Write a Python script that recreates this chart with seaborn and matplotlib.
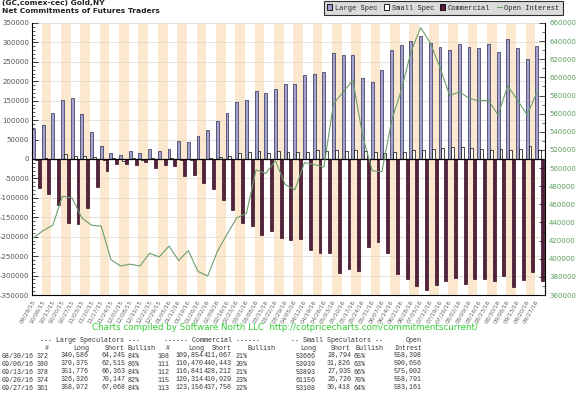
import numpy as np
import pandas as pd
import seaborn as sns
import matplotlib.pyplot as plt
from matplotlib.patches import Patch
from matplotlib.lines import Line2D
from matplotlib.ticker import MultipleLocator, FuncFormatter

# weekly report dates
weeks = ["09/29/15", "10/06/15", "10/13/15", "10/20/15", "10/27/15", "11/03/15",
         "11/10/15", "11/17/15", "11/24/15", "12/01/15", "12/08/15", "12/15/15",
         "12/22/15", "12/29/15", "01/05/16", "01/12/16", "01/19/16", "01/26/16",
         "02/02/16", "02/09/16", "02/16/16", "02/23/16", "03/01/16", "03/08/16",
         "03/15/16", "03/22/16", "03/29/16", "04/05/16", "04/12/16", "04/19/16",
         "04/26/16", "05/03/16", "05/10/16", "05/17/16", "05/24/16", "05/31/16",
         "06/07/16", "06/14/16", "06/21/16", "06/28/16", "07/05/16", "07/12/16",
         "07/19/16", "07/26/16", "08/02/16", "08/09/16", "08/16/16", "08/23/16",
         "08/30/16", "09/06/16", "09/13/16", "09/20/16", "09/27/16"]

# net positions (contracts)
large_spec = [78000, 88000, 119000, 152000, 158000, 117000, 70000, 34000, 16000, 10000,
              20000, 15000, 27000, 20000, 27000, 46000, 45000, 59000, 75000, 99000,
              119000, 147000, 153000, 176000, 170000, 180000, 192000, 192000, 215000, 218000,
              223000, 273000, 267000, 268000, 208000, 199000, 230000, 281000, 294000, 304000,
              317000, 299000, 287000, 280000, 296000, 287000, 286000, 296000, 276341, 307860,
              285413, 256179, 291904]
small_spec = [-3000, 2000, 1000, 12000, 9000, 8000, 4000, -2000, 2000, -4000,
              2000, -3000, 3000, 1000, 2000, -2000, -3000, 1000, 3000, 5000,
              9000, 15000, 19000, 21000, 16000, 21000, 19000, 18000, 18000, 24000,
              20000, 24000, 21000, 24000, 20000, 17000, 16000, 19000, 19000, 24000,
              24000, 27000, 28000, 31000, 31000, 28000, 27000, 24000, 24872, 22113,
              25958, 34436, 22690]
commercial = [-75000, -89000, -119000, -164000, -166000, -125000, -71000, -30000, -13000, -14000,
              -16000, -7000, -22000, -16000, -19000, -44000, -40000, -61000, -76000, -106000,
              -132000, -164000, -173000, -196000, -186000, -203000, -209000, -207000, -233000, -241000,
              -241000, -294000, -283000, -289000, -226000, -214000, -243000, -296000, -310000, -326000,
              -337000, -323000, -315000, -306000, -321000, -310000, -309000, -315000, -301213, -329973,
              -311371, -290615, -314594]
open_interest = [423000, 431000, 437000, 469000, 467000, 445000, 437000, 436000, 399000, 392000,
                 394000, 392000, 406000, 402000, 414000, 398000, 409000, 386000, 381000, 408000,
                 427000, 445000, 450000, 498000, 494000, 508000, 482000, 476000, 506000, 504000,
                 501000, 571000, 584000, 597000, 536000, 497000, 496000, 552000, 586000, 628000,
                 655000, 638000, 611000, 580000, 584000, 577000, 574000, 575000, 558398, 590656,
                 575002, 558791, 583161]

# table under the chart
table_dates = ["08/30/16", "09/06/16", "09/13/16", "09/20/16", "09/27/16"]
ls_traders = ["372", "380", "378", "374", "361"]
ls_long = ["340,586", "370,375", "351,776", "326,326", "358,972"]
ls_short = ["64,245", "62,515", "66,363", "70,147", "67,068"]
ls_bull = ["84%", "86%", "84%", "82%", "84%"]
com_traders = ["108", "111", "112", "115", "113"]
com_long = ["109,854", "110,470", "116,841", "120,314", "123,156"]
com_short = ["411,067", "440,443", "428,212", "410,929", "437,750"]
com_bull = ["21%", "20%", "21%", "23%", "22%"]
ss_long = ["53666", "53939", "53893", "61156", "53108"]
ss_short = ["28,794", "31,826", "27,935", "26,720", "30,418"]
ss_bull = ["65%", "63%", "66%", "70%", "64%"]
oi_text = ["558,398", "590,656", "575,002", "558,791", "583,161"]

sns.set_style("white")
plt.rcParams["font.family"] = ["DejaVu Sans"]

W, H = 576, 397
fig = plt.figure(figsize=(W / 100, H / 100), dpi=100)
ax = fig.add_axes([32 / W, 1 - 295 / H, 513 / W, 272 / H])

n = len(weeks)
df = pd.DataFrame({
    "week": weeks * 3,
    "net": large_spec + small_spec + commercial,
    "type": ["Large Spec"] * n + ["Small Spec"] * n + ["Commercial"] * n,
})

colors = {"Large Spec": "#9d9dcf", "Small Spec": "#ffffff", "Commercial": "#5b1a3d"}
edges = {"Large Spec": "#2b2b5a", "Small Spec": "#000000", "Commercial": "#3a0d24"}

# alternating background stripes
for i in range(n):
    if i % 2 == 1:
        ax.axvspan(i - 0.45, i + 0.55, color="#fce8cf", lw=0, zorder=0)
for y in range(-350000, 350001, 50000):
    ax.axhline(y, color="#ddd6cc", lw=0.5, zorder=0.5)

sns.barplot(data=df, x="week", y="net", hue="type", palette=colors,
            hue_order=["Large Spec", "Small Spec", "Commercial"],
            width=0.9, errorbar=None, legend=False, ax=ax, zorder=2)
for cont, name in zip(ax.containers, ["Large Spec", "Small Spec", "Commercial"]):
    for bar in cont:
        bar.set_edgecolor(edges[name])
        bar.set_linewidth(0.5)

ax.axhline(0, color="black", lw=0.9, zorder=3)
ax.set_xlim(-0.45, n - 0.45)
ax.set_ylim(-350000, 350000)
ax.yaxis.set_major_locator(MultipleLocator(50000))
ax.yaxis.set_minor_locator(MultipleLocator(10000))
ax.yaxis.set_major_formatter(FuncFormatter(lambda v, p: f"{int(v)}"))
ax.set_xticks(np.arange(n) - 0.45)
ax.set_xticklabels(weeks, rotation=60, ha="right", rotation_mode="anchor",
                   fontsize=4.2, color="#666666")
ax.tick_params(axis="x", direction="in", length=3, width=0.6, pad=3)
ax.tick_params(axis="y", which="major", direction="in", length=4, width=0.6,
               labelsize=5, labelcolor="#555555", pad=2)
ax.tick_params(axis="y", which="minor", direction="in", length=2, width=0.5)
ax.set_xlabel("")
ax.set_ylabel("")
for s in ["top", "right"]:
    ax.spines[s].set_visible(False)
for s in ["left", "bottom"]:
    ax.spines[s].set_linewidth(0.8)
    ax.spines[s].set_color("black")

# open interest on the right axis
ax2 = ax.twinx()
sns.lineplot(x=np.arange(n) - 0.3, y=open_interest, ax=ax2, color="#6c9e6c", lw=0.8, zorder=4)
ax2.set_ylim(360000, 660000)
ax2.yaxis.set_major_locator(MultipleLocator(20000))
ax2.yaxis.set_minor_locator(MultipleLocator(10000))
ax2.yaxis.set_major_formatter(FuncFormatter(lambda v, p: f"{int(v)}"))
ax2.tick_params(axis="y", which="major", direction="in", length=4, width=0.6,
                labelsize=5, labelcolor="#5a9e5a", pad=3)
ax2.tick_params(axis="y", which="minor", direction="in", length=2, width=0.5)
for s in ["top", "left", "bottom"]:
    ax2.spines[s].set_visible(False)
ax2.spines["right"].set_linewidth(0.8)
ax2.spines["right"].set_color("black")
ax2.set_ylabel("")

# titles
fig.text(2 / W, 1 - 0.5 / H, "(GC,comex-cec) Gold,NY", fontsize=5.4, fontweight="bold",
         va="top", ha="left", color="#222222")
fig.text(2 / W, 1 - 8 / H, "Net Commitments of Futures Traders", fontsize=5.4,
         fontweight="bold", va="top", ha="left", color="#222222")

# legend
handles = [Patch(facecolor=colors["Large Spec"], edgecolor="black", lw=0.6),
           Patch(facecolor=colors["Small Spec"], edgecolor="black", lw=0.6),
           Patch(facecolor=colors["Commercial"], edgecolor="black", lw=0.6),
           Line2D([0], [0], color="#6c9e6c", lw=0.8)]
leg = fig.legend(handles, ["Large Spec", "Small Spec", "Commercial", "Open Interest"],
                 loc="upper right", bbox_to_anchor=(563 / W, 1 - 1 / H), ncol=4,
                 prop={"family": "Liberation Mono", "size": 5},
                 frameon=True, fancybox=False, handlelength=0.7, handleheight=0.8,
                 handletextpad=0.4, columnspacing=0.9, borderpad=0.5,
                 borderaxespad=0)
leg.get_frame().set_facecolor("#d2d2d2")
leg.get_frame().set_edgecolor("black")
leg.get_frame().set_linewidth(0.8)

# credits line
fig.text(285 / W, 1 - 328 / H,
         "Charts compiled by Software North LLC  http://cotpricecharts.com/commitmentscurrent/",
         fontsize=6.3, color="#33cc33", ha="center", va="center")

# table
mono = {"family": "Liberation Mono", "size": 4.8, "color": "#333333"}


def put(x, y, s, ha="right"):
    fig.text(x / W, 1 - y / H, s, ha=ha, va="center", fontdict=mono)


put(90, 340, "--- Large Speculators ---", "center")
put(212, 340, "------ Commercial ------", "center")
put(337, 340, "-- Small Speculators --", "center")
put(422, 340, "Open")
header = [(49, "#"), (89, "Long"), (125, "Short"), (155, "Bullish"), (170, "#"),
          (204, "Long"), (232, "Short"), (276, "Bullish"), (316, "Long"), (351, "Short"),
          (384, "Bullish"), (422, "Intrest")]
for x, s in header:
    put(x, 348, s)

columns = [(49, ls_traders), (89, ls_long), (125, ls_short), (140, ls_bull),
           (170, com_traders), (204, com_long), (232, com_short), (247, com_bull),
           (316, ss_long), (351, ss_short), (365, ss_bull), (422, oi_text)]
for r in range(len(table_dates)):
    y = 356 + 8 * r
    put(2, y, table_dates[r], "left")
    for x, vals in columns:
        put(x, y, vals[r])

fig.savefig("out.png", dpi=100, facecolor="white")
